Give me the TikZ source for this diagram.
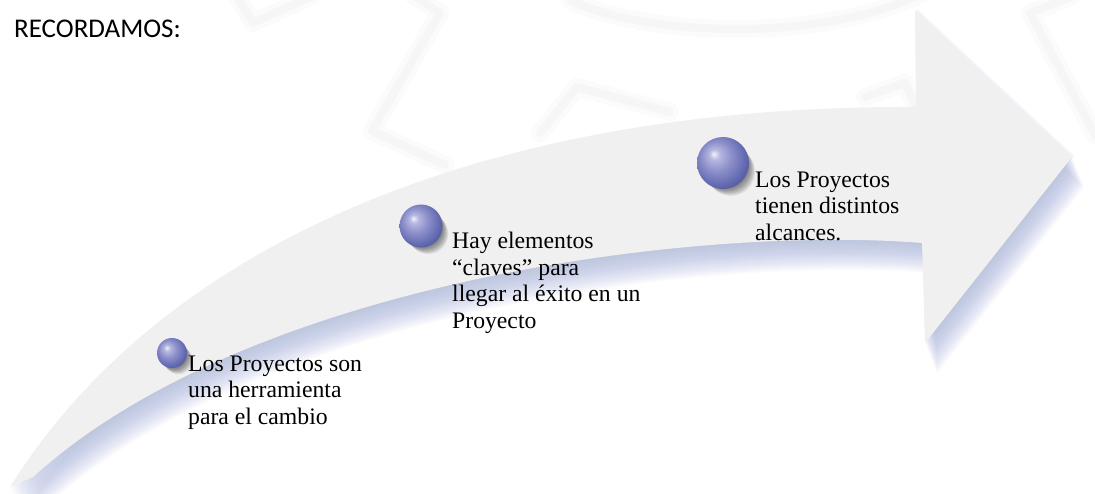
\documentclass[tikz,border=0pt]{standalone}
\usepackage{fontspec}
\setmainfont{Liberation Serif}
\newfontfamily\calibfont{Carlito}
\definecolor{arrowfill}{RGB}{240,240,240}
\definecolor{arrowshadow}{RGB}{172,184,224}
\definecolor{wmark}{RGB}{246,246,246}
\definecolor{wmarksoft}{RGB}{251,251,251}
\definecolor{sphhi}{RGB}{242,242,250}
\definecolor{sphA}{RGB}{182,184,225}
\definecolor{sphB}{RGB}{138,141,200}
\definecolor{sphC}{RGB}{90,98,172}
\definecolor{sphD}{RGB}{50,62,140}
\pgfdeclareradialshading{bluesphere}{\pgfpoint{-9bp}{9bp}}{color(0bp)=(sphhi); color(5bp)=(sphA); color(15bp)=(sphB); color(28bp)=(sphC); color(38bp)=(sphD); color(50bp)=(sphD)}
\tikzset{
  wmsoft/.style={draw=wmarksoft, line width=18pt, line join=round, line cap=round},
  wm/.style={draw=wmark, line width=8pt, line join=round, line cap=round},
  spherenode/.style={circle, inner sep=0pt, shading=bluesphere},
  sphshadow/.style={fill=black, opacity=0.08},
  txt/.style={font=\fontsize{23.7}{26.6}\selectfont, align=left, inner sep=0pt, anchor=north west},
}
\def\arrowpath{(10,487) .. controls (160,247) and (480,105) .. (916,107) -- (915,10) -- (1072,157) -- (925,343) -- (922,243) .. controls (700,225) and (250,280) .. (33,477) -- cycle}
\begin{document}
\begin{tikzpicture}[x=1pt,y=-1pt]
\useasboundingbox[fill=white] (0,0) rectangle (1095,494);
% faint watermark
\foreach \st in {wmsoft,wm}{
  \draw[\st] (413,-5) -- (440,13) -- (372,131) -- (445,165);
  \draw[\st] (236,-5) -- (253,23) -- (310,-3);
  \draw[\st] (570,0) .. controls (640,35) and (820,45) .. (925,-8);
  \draw[\st] (1070,-3) -- (1030,13) -- (1095,135);
  \draw[\st] (540,133) -- (577,87) -- (670,112);
  \draw[\st] (865,97) -- (905,83) -- (915,105);
}
% arrow shadow
\foreach \k in {1,...,32}{
  \fill[arrowshadow, opacity=0.035, shift={({0.38*\k},{0.95*\k})}] \arrowpath;
}
\begin{scope}
  \clip (915,0) rectangle (1095,200);
  \fill[arrowshadow, opacity=0.15, shift={(2,-1)}] \arrowpath;
\end{scope}
% arrow
\fill[arrowfill] \arrowpath;
% title
\node[font=\calibfont\fontsize{27}{32}\selectfont, anchor=base west, inner sep=0pt] (title) at (14,37.7) {RECORDAMOS:};
% sphere centres
\coordinate (c1) at (172,353);
\coordinate (c2) at (421,226);
\coordinate (c3) at (723,163);
% sphere shadows
\foreach \k in {1,...,8}{
  \fill[sphshadow] ([shift={({0.8*\k},{0.9*\k})}]c1) circle[radius=14pt];
  \fill[sphshadow] ([shift={({0.9*\k},{1.0*\k})}]c2) circle[radius=20pt];
  \fill[sphshadow] ([shift={({1.0*\k},{1.1*\k})}]c3) circle[radius=24pt];
}
% spheres
\node[spherenode, minimum size=30pt] (s1) at (c1) {};
\node[spherenode, minimum size=43pt] (s2) at (c2) {};
\node[spherenode, minimum size=52pt] (s3) at (c3) {};
% texts
\node[txt] (t1) at (188,355.3) {Los Proyectos son\\una herramienta\\para el cambio};
\node[txt] (t2) at (452,231.8) {Hay elementos\\“claves” para\\llegar al éxito en un\\Proyecto};
\node[txt] (t3) at (755,171.3) {Los Proyectos\\tienen distintos\\alcances.};
\end{tikzpicture}
\end{document}
